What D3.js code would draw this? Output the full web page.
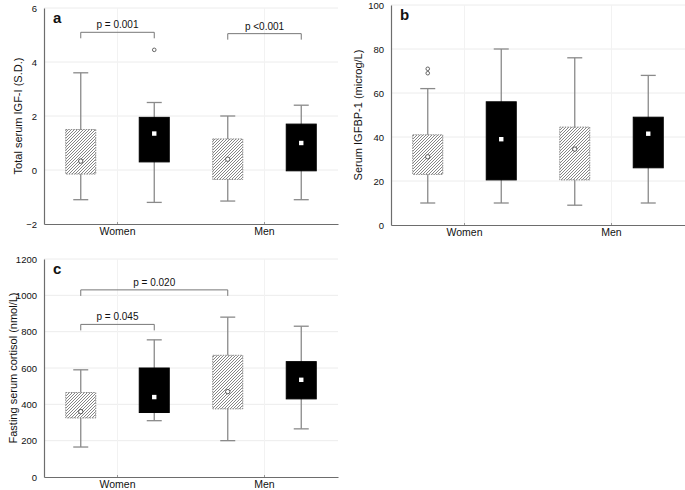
<!DOCTYPE html>
<html lang="en">
<head>
  <meta charset="UTF-8">
  <title>IGF-I, IGFBP-1 and cortisol box plots</title>
  <script src="https://d3js.org/d3.v7.min.js"></script>
  <style>
    body { margin: 0; background: #fff; font-family: Arial, "Liberation Sans", sans-serif; }
    svg text { fill: #111; }
  </style>
</head>
<body>
  <div id="chart"></div>
  <script>
    // categories and the two boxes drawn in each category
    const categories = ["Women", "Men"];
    const series = ["hatched", "black"];

    // box stats: [whisker low, q1, q3, whisker high, mean], order Women-hatched, Women-black, Men-hatched, Men-black
    const igf1Boxes = [
      [-1.1, -0.15, 1.5, 3.6, 0.33],
      [-1.2, 0.3, 1.95, 2.5, 1.35],
      [-1.15, -0.35, 1.15, 2.0, 0.4],
      [-1.1, -0.03, 1.7, 2.4, 1.0]
    ];
    const igf1Outliers = [[1, 4.45]];
    const igfbp1Boxes = [
      [10, 23, 41, 62, 31],
      [10, 20.5, 56, 80, 39],
      [9, 20.5, 44.5, 76, 34.5],
      [10, 26, 49, 68, 41.5]
    ];
    const igfbp1Outliers = [[0, 69], [0, 71]];
    const cortisolBoxes = [
      [165, 325, 465, 590, 360],
      [310, 355, 600, 755, 440],
      [200, 375, 670, 880, 470],
      [265, 430, 635, 830, 535]
    ];
    const cortisolOutliers = [];

    const igf1Ticks = [-2, 0, 2, 4, 6];
    const igfbp1Ticks = [0, 20, 40, 60, 80, 100];
    const cortisolTicks = [0, 200, 400, 600, 800, 1000, 1200];

    // brackets: [from box, to box, level, label]
    const igf1Brackets = [[0, 1, 5.1, "p = 0.001"], [2, 3, 5.05, "p <0.001"]];
    const cortisolBrackets = [[0, 2, 1030, "p = 0.020"], [0, 1, 840, "p = 0.045"]];

    const svg = d3.select("#chart").append("svg")
      .attr("width", 685).attr("height", 490);

    const defs = svg.append("defs");
    const pat = defs.append("pattern")
      .attr("id", "hatch")
      .attr("patternUnits", "userSpaceOnUse")
      .attr("width", 3).attr("height", 3);
    pat.append("rect").attr("width", 3).attr("height", 3).attr("fill", "#fff");
    pat.append("path")
      .attr("d", "M-1,1 l2,-2 M0,3 l3,-3 M2,4 l2,-2")
      .attr("stroke", "#666").attr("stroke-width", 0.8);

    function panel(opts) {
      const g = svg.append("g");
      const x = d3.scaleBand().domain(categories).range(opts.xRange);
      const xs = d3.scaleBand().domain(series).range([0, x.bandwidth()]);
      const y = d3.scaleLinear().domain(opts.domain).range(opts.yRange);
      const boxW = 30;
      const cx = i => x(categories[Math.floor(i / 2)]) + xs(series[i % 2]) + xs.bandwidth() / 2;

      // faint grid
      g.selectAll(".hgrid").data(opts.ticks.slice(1)).join("line")
        .attr("x1", opts.xRange[0]).attr("x2", opts.xRange[1])
        .attr("y1", d => y(d)).attr("y2", d => y(d))
        .attr("stroke", "#ececec").attr("stroke-width", 1);
      g.selectAll(".vgrid").data(categories).join("line")
        .attr("x1", d => x(d) + x.bandwidth() / 2).attr("x2", d => x(d) + x.bandwidth() / 2)
        .attr("y1", opts.yRange[0]).attr("y2", opts.yRange[1])
        .attr("stroke", "#f2f2f2").attr("stroke-width", 1);

      // axes
      const yAxis = g.append("g")
        .attr("transform", `translate(${opts.xRange[0]},0)`)
        .call(d3.axisLeft(y).tickValues(opts.ticks).tickFormat(d3.format("d")).tickSize(0).tickPadding(7));
      yAxis.select(".domain").attr("stroke", "#6d6d6d").attr("stroke-width", 1.2);
      yAxis.selectAll("text").style("font-size", "9.5px").style("font-family", "Arial, sans-serif").attr("fill", "#111");

      const xAxis = g.append("g")
        .attr("transform", `translate(0,${opts.yRange[0]})`)
        .call(d3.axisBottom(x).tickSize(-2).tickPadding(4).tickSizeOuter(0));
      xAxis.select(".domain").attr("stroke", "#6d6d6d").attr("stroke-width", 1.2);
      xAxis.selectAll("line").attr("stroke", "#999");
      xAxis.selectAll("text").style("font-size", "10.5px").style("font-family", "Arial, sans-serif").attr("fill", "#111");

      // whiskers
      const boxes = g.selectAll(".box").data(opts.boxes).join("g");
      boxes.append("line")
        .attr("x1", (d, i) => cx(i)).attr("x2", (d, i) => cx(i))
        .attr("y1", d => y(d[0])).attr("y2", d => y(d[3]))
        .attr("stroke", "#8a8a8a").attr("stroke-width", 1.3);
      boxes.each(function (d, i) {
        [d[0], d[3]].forEach(v => {
          d3.select(this).append("line")
            .attr("x1", cx(i) - 7.5).attr("x2", cx(i) + 7.5)
            .attr("y1", y(v)).attr("y2", y(v))
            .attr("stroke", "#8a8a8a").attr("stroke-width", 1.3);
        });
      });
      // boxes
      boxes.append("rect")
        .attr("x", (d, i) => cx(i) - boxW / 2)
        .attr("width", boxW)
        .attr("y", d => y(d[2]))
        .attr("height", d => y(d[1]) - y(d[2]))
        .attr("fill", (d, i) => i % 2 === 0 ? "url(#hatch)" : "#000")
        .attr("stroke", (d, i) => i % 2 === 0 ? "#8a8a8a" : "#000")
        .attr("stroke-width", 1)
        .attr("stroke-dasharray", (d, i) => i % 2 === 0 ? "1.5,1" : null);
      // means
      boxes.filter((d, i) => i % 2 === 0).append("circle")
        .attr("cx", d => cx(opts.boxes.indexOf(d))).attr("cy", d => y(d[4]))
        .attr("r", 2.2).attr("fill", "#fff").attr("stroke", "#444").attr("stroke-width", 0.9);
      boxes.filter((d, i) => i % 2 === 1).append("rect")
        .attr("x", d => cx(opts.boxes.indexOf(d)) - 2.2).attr("y", d => y(d[4]) - 2.2)
        .attr("width", 4.4).attr("height", 4.4).attr("fill", "#fff");

      // outliers
      g.selectAll(".out").data(opts.outliers).join("circle")
        .attr("cx", d => cx(d[0])).attr("cy", d => y(d[1]))
        .attr("r", 1.8).attr("fill", "#fff").attr("stroke", "#555").attr("stroke-width", 0.9);

      // significance brackets
      opts.brackets.forEach(b => {
        const x1 = cx(b[0]), x2 = cx(b[1]), yy = y(b[2]);
        g.append("path")
          .attr("d", `M${x1},${yy + 6}V${yy}H${x2}V${yy + 6}`)
          .attr("fill", "none").attr("stroke", "#777").attr("stroke-width", 1);
        g.append("text")
          .attr("x", (x1 + x2) / 2).attr("y", yy - 4)
          .attr("text-anchor", "middle")
          .style("font-size", "10px")
          .text(b[3]);
      });

      // panel letter
      g.append("text")
        .attr("x", opts.xRange[0] + 9).attr("y", opts.yRange[1] + 15)
        .style("font-size", "15px").style("font-weight", "bold")
        .text(opts.letter);

      // y title
      g.append("text")
        .attr("transform", `translate(${opts.titleX},${(opts.yRange[0] + opts.yRange[1]) / 2}) rotate(-90)`)
        .attr("text-anchor", "middle")
        .style("font-size", "11px")
        .text(opts.title);
    }

    panel({
      xRange: [44, 338], yRange: [224, 8], domain: [-2, 6], ticks: igf1Ticks,
      boxes: igf1Boxes, outliers: igf1Outliers, brackets: igf1Brackets,
      letter: "a", title: "Total serum IGF-I (S.D.)", titleX: 22
    });
    panel({
      xRange: [391, 685], yRange: [225, 5], domain: [0, 100], ticks: igfbp1Ticks,
      boxes: igfbp1Boxes, outliers: igfbp1Outliers, brackets: [],
      letter: "b", title: "Serum IGFBP-1 (microg/L)", titleX: 362
    });
    panel({
      xRange: [44, 338], yRange: [477, 259], domain: [0, 1200], ticks: cortisolTicks,
      boxes: cortisolBoxes, outliers: cortisolOutliers, brackets: cortisolBrackets,
      letter: "c", title: "Fasting serum cortisol (nmol/L)", titleX: 17
    });
  </script>
</body>
</html>
